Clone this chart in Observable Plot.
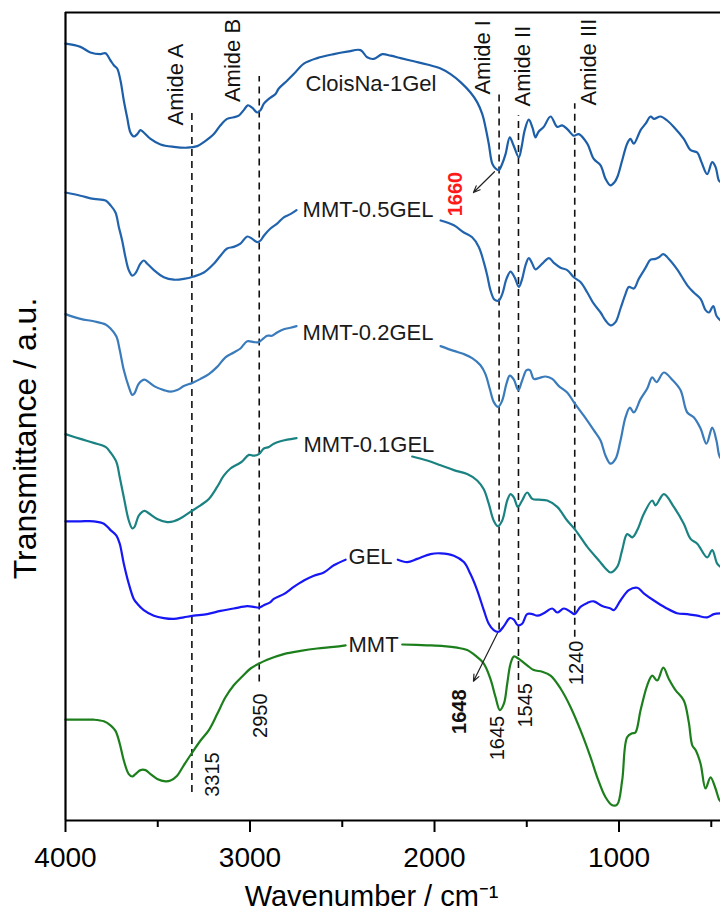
<!DOCTYPE html>
<html>
<head>
<meta charset="utf-8">
<script src="https://cdn.jsdelivr.net/npm/d3@7"></script>
<script src="https://cdn.jsdelivr.net/npm/@observablehq/plot@0.6"></script>
<style>
  html, body { margin: 0; padding: 0; background: white; }
</style>
</head>
<body>
<script>
// ---- Data: [wavenumber (cm-1), transmittance (a.u., offset per spectrum)] ; NaN = break for label
const cloisNa1Gel = [
[4000,97.1],[3919,96.7],[3865,96.0],[3810,95.8],[3783,95.9],[3756,95.0],[3738,94.4],[3720,94.0],[3702,92.5],[3684,90.0],[3666,87.9],[3648,86.0],[3630,85.5],[3611,85.8],[3594,86.3],[3576,86.0],[3539,85.2],[3485,84.5],[3413,84.2],[3340,84.1],[3286,84.3],[3250,84.8],[3196,85.8],[3160,86.9],[3124,87.7],[3088,87.9],[3061,88.1],[3034,88.8],[3012,89.4],[2988,89.1],[2961,88.5],[2943,88.8],[2925,89.6],[2898,90.2],[2880,90.5],[2862,90.8],[2844,91.5],[2798,92.5],[2763,93.3],[2708,94.6],[2636,95.3],[2546,95.8],[2473,96.1],[2401,96.3],[2365,95.4],[2329,95.2],[2283,95.8],[2238,95.6],[2184,95.3],[2112,94.9],[2040,94.5],[1967,94.0],[1913,93.3],[1859,92.3],[1805,91.0],[1769,89.8],[1741,88.3],[1724,86.7],[1706,84.6],[1687,82.1],[1669,81.5],[1652,81.3],[1633,82.1],[1615,83.3],[1592,85.4],[1572,84.4],[1543,82.9],[1528,84.2],[1511,86.3],[1489,87.6],[1469,86.6],[1453,85.4],[1436,86.1],[1408,86.7],[1371,88.0],[1335,86.7],[1308,86.9],[1279,86.4],[1245,85.6],[1218,85.8],[1172,84.6],[1137,82.7],[1100,81.9],[1073,80.2],[1046,79.4],[1024,79.8],[1008,80.5],[983,82.5],[956,84.6],[938,85.2],[920,84.6],[883,86.3],[856,87.1],[829,88.0],[811,87.7],[775,88.0],[739,87.5],[703,86.7],[649,85.2],[612,83.8],[576,83.5],[553,82.3],[522,80.8],[495,82.3],[477,81.7],[459,80.0],[450,79.8]
];
const mmt05Gel = [
[4000,78.5],[3919,78.1],[3847,77.7],[3783,77.5],[3756,76.9],[3729,76.0],[3711,74.2],[3693,72.5],[3675,70.4],[3657,68.8],[3638,68.1],[3621,68.4],[3594,69.6],[3576,70.0],[3557,69.6],[3521,68.8],[3467,67.9],[3413,67.6],[3359,67.7],[3305,68.0],[3250,68.5],[3196,69.6],[3160,70.6],[3124,71.5],[3088,71.7],[3052,72.1],[3015,73.0],[2988,72.7],[2961,72.3],[2943,72.5],[2925,73.1],[2889,74.0],[2853,74.6],[2817,75.4],[2781,75.8],[2748,76.3],
[2350,NaN],
[1967,75.0],[1895,74.4],[1841,73.5],[1796,72.9],[1760,71.7],[1733,69.8],[1714,68.1],[1697,66.3],[1675,65.1],[1652,65.0],[1633,65.8],[1610,67.7],[1588,68.6],[1566,67.9],[1543,66.7],[1525,67.7],[1507,69.4],[1489,70.3],[1470,69.6],[1453,68.9],[1416,69.6],[1380,70.3],[1353,69.7],[1317,69.1],[1281,68.8],[1245,67.9],[1209,67.3],[1172,66.0],[1137,64.6],[1100,63.5],[1073,62.5],[1046,61.9],[1019,62.3],[992,64.0],[965,65.8],[947,66.7],[920,66.5],[893,67.7],[856,69.1],[829,70.1],[802,70.2],[784,70.4],[760,70.8],[730,70.2],[685,68.9],[630,66.9],[595,66.0],[558,65.2],[531,63.8],[513,63.5],[489,64.3],[472,63.1],[450,62.5]
];
const mmt02Gel = [
[4000,63.3],[3919,62.7],[3847,62.4],[3783,62.0],[3756,61.5],[3724,60.5],[3706,58.8],[3684,56.3],[3657,54.2],[3638,53.2],[3626,53.4],[3603,54.6],[3572,55.1],[3549,54.8],[3512,54.2],[3467,53.8],[3431,53.6],[3395,53.8],[3359,54.3],[3313,54.7],[3268,55.2],[3223,55.8],[3178,56.7],[3133,57.9],[3088,58.5],[3052,59.0],[3015,59.9],[2979,59.8],[2952,59.8],[2925,60.3],[2907,60.6],[2880,60.6],[2853,61.0],[2817,61.4],[2781,61.6],[2748,61.8],
[2350,NaN],
[1967,59.3],[1895,58.7],[1841,58.3],[1796,57.8],[1751,56.9],[1724,55.8],[1700,53.9],[1679,52.3],[1655,51.7],[1633,52.5],[1610,54.6],[1592,55.6],[1570,55.1],[1546,53.8],[1525,55.0],[1501,56.3],[1483,56.3],[1462,55.2],[1435,55.3],[1398,55.5],[1362,55.2],[1326,54.3],[1281,53.5],[1245,52.3],[1191,50.6],[1137,48.8],[1100,47.5],[1073,45.6],[1046,44.6],[1019,45.2],[992,47.5],[965,50.4],[941,51.6],[920,51.0],[883,52.7],[847,54.0],[820,55.4],[797,54.8],[757,56.0],[712,55.1],[667,53.8],[630,51.0],[595,50.4],[558,49.0],[526,47.1],[495,49.1],[472,47.5],[459,45.8],[450,45.3]
];
const mmt01Gel = [
[4000,48.3],[3919,47.7],[3847,47.2],[3783,46.7],[3756,46.0],[3724,44.8],[3706,42.9],[3684,40.4],[3657,37.5],[3638,36.5],[3626,36.7],[3603,38.1],[3572,38.7],[3549,38.4],[3503,37.7],[3449,37.3],[3413,37.4],[3367,37.9],[3322,38.6],[3268,39.4],[3223,40.2],[3178,41.7],[3142,43.1],[3106,44.0],[3069,44.5],[3042,44.9],[3006,45.7],[2979,45.6],[2952,45.8],[2925,46.5],[2898,46.7],[2871,47.1],[2835,47.4],[2798,47.6],[2748,47.8],
[2400,NaN],
[2121,45.5],[2040,45.0],[1967,44.4],[1895,43.8],[1823,43.3],[1769,42.5],[1733,41.4],[1706,39.6],[1679,37.5],[1657,36.8],[1633,37.5],[1606,40.0],[1588,40.8],[1570,40.4],[1548,39.2],[1525,40.0],[1498,41.0],[1470,40.2],[1435,40.1],[1389,40.0],[1335,39.2],[1281,37.5],[1236,36.3],[1172,34.2],[1109,32.5],[1073,31.5],[1046,31.0],[1010,31.7],[983,33.8],[956,35.8],[928,35.4],[901,36.3],[866,38.3],[820,40.0],[802,39.4],[757,40.8],[703,39.2],[649,37.1],[612,35.2],[576,34.6],[522,32.9],[495,33.8],[468,32.1],[450,31.7]
];
const gel = [
[4000,37.4],[3919,37.4],[3847,37.4],[3792,37.1],[3756,36.3],[3724,35.6],[3706,34.6],[3684,32.1],[3657,29.6],[3630,27.7],[3611,27.1],[3576,26.3],[3521,25.6],[3467,25.3],[3413,25.2],[3359,25.4],[3305,25.6],[3232,25.8],[3160,26.2],[3088,26.5],[3015,26.8],[2979,26.7],[2952,26.6],[2925,26.9],[2889,27.3],[2871,27.7],[2817,28.3],[2763,29.2],[2708,30.0],[2654,30.6],[2600,31.0],[2546,31.9],[2482,32.6],
[2340,NaN],
[2199,32.6],[2148,32.3],[2094,32.7],[2022,33.3],[1967,33.4],[1895,33.1],[1841,32.3],[1805,30.8],[1769,28.8],[1733,26.3],[1706,24.6],[1679,23.8],[1652,23.6],[1624,24.3],[1592,25.3],[1570,25.1],[1548,24.4],[1525,24.6],[1498,25.8],[1470,25.8],[1443,25.6],[1408,25.9],[1362,26.5],[1335,26.0],[1299,26.5],[1263,26.1],[1241,25.8],[1209,26.7],[1172,27.2],[1137,27.4],[1091,26.8],[1046,26.5],[1028,26.3],[992,27.5],[947,28.8],[901,29.1],[866,28.4],[811,27.5],[748,26.6],[685,25.9],[630,25.8],[576,25.6],[522,25.4],[486,25.8],[450,25.9]
];
const mmt = [
[4000,12.6],[3919,12.6],[3847,12.6],[3792,12.4],[3756,11.9],[3729,11.2],[3706,9.6],[3684,7.5],[3657,5.8],[3638,5.5],[3621,5.8],[3594,6.3],[3566,6.3],[3539,5.8],[3503,5.2],[3458,4.9],[3431,5.0],[3395,5.6],[3359,6.9],[3313,8.5],[3268,10.0],[3223,11.3],[3178,13.3],[3133,15.4],[3088,16.9],[3042,18.0],[2997,19.0],[2952,19.6],[2907,20.1],[2817,20.8],[2726,21.2],[2636,21.5],[2546,21.7],[2482,21.9],
[2330,NaN],
[2175,22.0],[2040,21.9],[1950,21.8],[1877,21.6],[1823,21.3],[1778,20.6],[1733,19.6],[1697,17.7],[1669,15.4],[1646,13.8],[1624,14.6],[1606,17.1],[1588,19.6],[1570,20.5],[1543,20.2],[1498,19.4],[1462,18.8],[1416,18.6],[1371,18.1],[1317,16.5],[1263,14.2],[1209,11.3],[1154,7.9],[1118,5.4],[1073,2.9],[1037,1.9],[1010,2.0],[983,5.0],[956,10.4],[928,10.9],[911,11.0],[883,13.8],[847,16.9],[820,18.1],[793,17.5],[760,19.1],[730,17.7],[694,16.3],[649,15.0],[622,12.3],[603,9.4],[585,8.8],[558,7.1],[531,4.0],[504,5.4],[477,4.0],[459,2.7],[450,2.4]
];

const seriesNames = ["CloisNa-1Gel", "MMT-0.5GEL", "MMT-0.2GEL", "MMT-0.1GEL", "GEL", "MMT"];
const seriesData = [cloisNa1Gel, mmt05Gel, mmt02Gel, mmt01Gel, gel, mmt];

// band positions (cm-1) for the dashed guide lines and their names
const bandWavenumbers = [3315, 2950, 1650, 1545, 1240];
const bandNames = ["Amide A", "Amide B", "Amide I", "Amide II", "Amide III"];
const peakLabels = ["3315", "2950", "1240", "1545", "1645", "1648", "1660"];
const majorTicks = [4000, 3000, 2000, 1000];
const minorTicks = [3500, 2500, 1500, 500];

// ---- styles / placement (kept apart from the values)
const colors = ["#1c5ea8", "#2264ae", "#3a7bbb", "#1b8282", "#1717f5", "#1c7f1c"];
const seriesLabelPos = [[2699, 92.1], [2715, 76.3], [2715, 60.9], [2710, 46.9], [2466, 32.9], [2466, 21.9]];
const bandSpan = [[3.5, 88.4], [17.3, 93.0], [23.8, 91.3], [17.5, 88.1], [22.9, 89.6]];
const bandLabelPos = [[3404, 92.0], [3095, 95.0], [1737, 95.4], [1520, 94.3], [1164, 94.8]];
const peakLabelPos = [[3205, 5.75], [2943, 13.1], [1231, 19.7], [1504, 14.4], [1657, 10.3], [1864, 13.6], [1886, 78.3]];
const peakLabelStyle = [
  {fill: "#111", weight: "normal"}, {fill: "#111", weight: "normal"}, {fill: "#111", weight: "normal"},
  {fill: "#111", weight: "normal"}, {fill: "#111", weight: "normal"}, {fill: "#111", weight: "bold"},
  {fill: "#ff1a1a", weight: "bold"}
];
const arrows = [
  {x1: 1675, y1: 81.1, x2: 1789, y2: 78.5},
  {x1: 1659, y1: 23.4, x2: 1789, y2: 17.4}
];

const rows = seriesData.flatMap((arr, i) => arr.map(([wn, t]) => ({series: seriesNames[i], wn, t})));
const bands = bandWavenumbers.map((wn, i) => ({wn, y1: bandSpan[i][0], y2: bandSpan[i][1], name: bandNames[i], lx: bandLabelPos[i][0], ly: bandLabelPos[i][1]}));
const seriesLabels = seriesNames.map((name, i) => ({name, x: seriesLabelPos[i][0], y: seriesLabelPos[i][1]}));
const peaks = peakLabels.map((text, i) => ({text, x: peakLabelPos[i][0], y: peakLabelPos[i][1], ...peakLabelStyle[i]}));

const font = "'Liberation Sans', Arial, Helvetica, sans-serif";

const chart = Plot.plot({
  width: 720,
  height: 912,
  marginLeft: 65,
  marginRight: 0,
  marginTop: 12,
  marginBottom: 92,
  style: {fontFamily: font, background: "white", overflow: "visible"},
  x: {domain: [4000, 450], axis: null},
  y: {domain: [0, 101], axis: null},
  marks: [
    // dashed band guides
    Plot.ruleX(bands, {x: "wn", y1: "y1", y2: "y2", stroke: "#111", strokeWidth: 1.6, strokeDasharray: "7,5"}),
    // spectra
    ...seriesNames.map((s, i) => Plot.line(rows.filter(r => r.series === s), {
      x: "wn", y: "t", stroke: colors[i], strokeWidth: 2.2, strokeLinejoin: "round", curve: "catmull-rom"
    })),
    // series labels
    Plot.text(seriesLabels, {x: "x", y: "y", text: "name", textAnchor: "start", fontSize: 22, fill: "#1a1a1a"}),
    // band names
    Plot.text(bands, {x: "lx", y: "ly", text: "name", rotate: -90, fontSize: 22, fill: "#111"}),
    // peak labels
    Plot.text(peaks.filter(d => d.weight === "normal"), {x: "x", y: "y", text: "text", rotate: -90, fontSize: 20, fill: "fill"}),
    Plot.text(peaks.filter(d => d.weight === "bold"), {x: "x", y: "y", text: "text", rotate: -90, fontSize: 20, fontWeight: "bold", fill: "fill"}),
    // arrows
    Plot.arrow(arrows, {x1: "x1", y1: "y1", x2: "x2", y2: "y2", stroke: "#222", strokeWidth: 1.2, headLength: 9, headAngle: 45}),
    // frame
    Plot.ruleY([0], {strokeWidth: 2.2, stroke: "#000"}),
    Plot.ruleY([101], {strokeWidth: 2.2, stroke: "#000"}),
    Plot.ruleX([4000], {strokeWidth: 2.2, stroke: "#000"}),
    // axis
    Plot.axisX({ticks: majorTicks, tickSize: 12, tickPadding: 15, strokeWidth: 2, fontSize: 28, tickFormat: d => String(d), label: null, fill: "#000"}),
    Plot.axisX({ticks: minorTicks, tickSize: 7, strokeWidth: 2, tickFormat: () => "", label: null}),
    // axis titles
    Plot.text(["Wavenumber / cm\u207B\u00B9"], {x: 2341, y: -9.5, text: d => d, fontSize: 29, fill: "#000"}),
    Plot.text(["Transmittance / a.u."], {x: 4217, y: 47.75, text: d => d, rotate: -90, fontSize: 32, fill: "#000"})
  ]
});
document.body.appendChild(chart);
</script>
</body>
</html>
